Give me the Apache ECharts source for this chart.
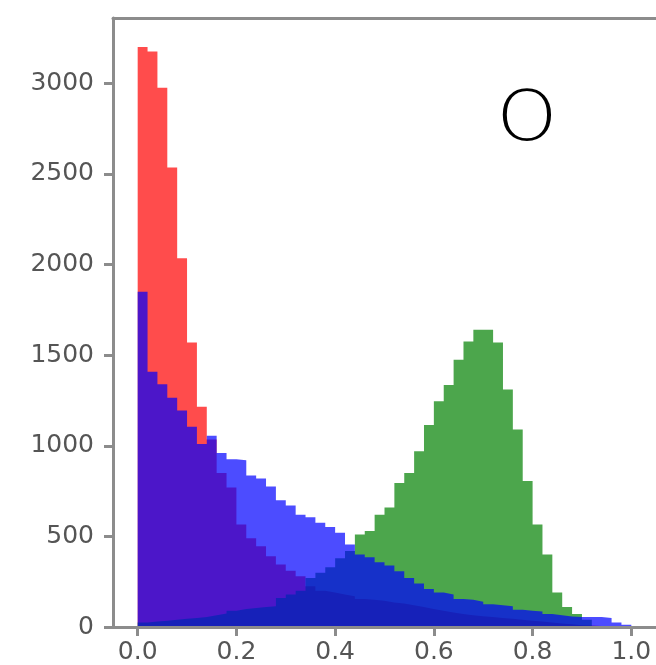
<!DOCTYPE html>
<html>
<head>
<meta charset="utf-8">
<script src="https://cdn.jsdelivr.net/npm/echarts@6/dist/echarts.min.js"></script>
<style>
  html, body { margin: 0; padding: 0; background: #ffffff; }
  #chart { width: 656px; height: 665px; }
</style>
</head>
<body>
<div id="chart"></div>
<script>
// Histogram counts per 0.02-wide bin on [0, 1]
const binWidth = 0.02;
const redCounts = [3200, 3175, 2975, 2535, 2035, 1570, 1215, 1035, 850, 770,
                   566, 490, 445, 390, 345, 310, 280, 225, 200, 190,
                   180, 170, 155, 150, 145, 135, 130, 120, 110, 100,
                   90, 80, 72, 65, 60, 55, 50, 45, 40, 35,
                   30, 25, 20, 15, 10, 8, 5, 3, 2, 1];
const greenCounts = [25, 30, 35, 40, 45, 50, 55, 65, 75, 90,
                     100, 105, 110, 115, 160, 180, 200, 270, 300, 330,
                     380, 420, 510, 530, 620, 660, 795, 850, 970, 1115,
                     1245, 1335, 1475, 1575, 1640, 1640, 1570, 1310, 1090, 805,
                     565, 400, 190, 110, 72, 40, 0, 0, 0, 0];
const blueCounts = [1850, 1408, 1340, 1265, 1195, 1105, 1010, 1055, 960, 925,
                    920, 836, 820, 775, 700, 670, 620, 605, 575, 552,
                    520, 455, 400, 385, 357, 340, 308, 270, 240, 210,
                    190, 180, 155, 150, 140, 125, 120, 115, 95, 90,
                    85, 72, 65, 58, 55, 55, 55, 50, 25, 12];
const xTicks = [0, 0.2, 0.4, 0.6, 0.8, 1.0];
const yTicks = [0, 500, 1000, 1500, 2000, 2500, 3000];
const panelLabel = 'O';

// Step outline: one point per left bin edge plus the closing right edge
function stepPoints(counts) {
  const pts = counts.map((c, i) => [+(i * binWidth).toFixed(4), c]);
  pts.push([+(counts.length * binWidth).toFixed(4), counts[counts.length - 1]]);
  return pts;
}

function histSeries(name, counts, color) {
  return {
    name: name,
    type: 'line',
    step: 'end',
    xAxisIndex: 0,
    data: stepPoints(counts),
    showSymbol: false,
    silent: true,
    lineStyle: { width: 0, opacity: 0 },
    areaStyle: { color: color, opacity: 1 },
    z: 2
  };
}

const spine = '#8c8c8c';
const labelFont = { fontSize: 25, color: '#555555', fontFamily: 'DejaVu Sans' };

const chart = echarts.init(document.getElementById('chart'), null, { renderer: 'canvas' });
chart.setOption({
  animation: false,
  backgroundColor: '#ffffff',
  grid: { left: 113, top: 18, width: 543, height: 610, show: false },
  xAxis: [{
    type: 'value', min: -0.05, max: 1.05, z: 5,
    axisLine: { show: true, onZero: false, lineStyle: { color: spine, width: 3 } },
    splitLine: { show: false },
    axisTick: { show: true, customValues: xTicks, length: 9, lineStyle: { color: spine, width: 3 } },
    axisLabel: Object.assign({ customValues: xTicks, margin: 13, formatter: v => v.toFixed(1) }, labelFont)
  }, {
    // top frame line
    type: 'value', position: 'top', min: -0.05, max: 1.05, z: 5,
    axisLine: { show: true, onZero: false, lineStyle: { color: spine, width: 3 } },
    splitLine: { show: false }, axisTick: { show: false }, axisLabel: { show: false }
  }],
  yAxis: {
    type: 'value', min: 0, max: 3360, z: 5,
    axisLine: { show: true, onZero: false, lineStyle: { color: spine, width: 3 } },
    splitLine: { show: false },
    axisTick: { show: true, customValues: yTicks, length: 9, lineStyle: { color: spine, width: 3 } },
    axisLabel: Object.assign({ customValues: yTicks, margin: 19, formatter: v => String(v) }, labelFont)
  },
  series: [
    histSeries('red', redCounts, 'rgba(255,0,0,0.7)'),
    histSeries('green', greenCounts, 'rgba(0,128,0,0.7)'),
    histSeries('blue', blueCounts, 'rgba(0,0,255,0.7)')
  ],
  graphic: [{
    type: 'text', x: 527, y: 122, z: 10, scaleX: 1.12,
    style: {
      text: panelLabel, fill: '#000000', fontSize: 69, fontFamily: 'DejaVu Sans',
      fontWeight: 200, align: 'center', verticalAlign: 'middle'
    }
  }]
});
</script>
</body>
</html>
